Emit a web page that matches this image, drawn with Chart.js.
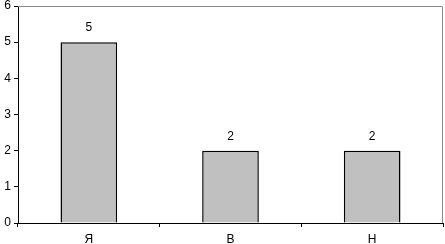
<!DOCTYPE html>
<html>
<head>
<meta charset="utf-8">
<script src="https://cdn.jsdelivr.net/npm/chart.js@4/dist/chart.umd.min.js"></script>
<style>
  html, body { margin: 0; padding: 0; background: #fff; }
  #wrap { width: 445px; height: 244px; }
</style>
</head>
<body>
<div id="wrap"><canvas id="chart"></canvas></div>
<script>
const categories = ['Я', 'В', 'Н'];
const values = [5, 2, 2];
const yTicks = [0, 1, 2, 3, 4, 5, 6];

// value labels above the bars
const valueLabels = {
    id: 'valueLabels',
    afterDatasetsDraw(chart) {
        const ctx = chart.ctx;
        const meta = chart.getDatasetMeta(0);
        ctx.save();
        ctx.font = '12px "Liberation Sans", Arial, sans-serif';
        ctx.fillStyle = '#000';
        ctx.textAlign = 'center';
        ctx.textBaseline = 'middle';
        meta.data.forEach((bar, i) => {
            ctx.fillText(String(values[i]), bar.x, bar.y - 14);
        });
        ctx.restore();
    }
};

// grey frame on top and right of the plot area
const frame = {
    id: 'frame',
    beforeDatasetsDraw(chart) {
        const a = chart.chartArea;
        const ctx = chart.ctx;
        ctx.save();
        ctx.strokeStyle = '#888';
        ctx.lineWidth = 1;
        ctx.beginPath();
        ctx.moveTo(a.left, a.top + 0.5);
        ctx.lineTo(a.right - 0.5, a.top + 0.5);
        ctx.lineTo(a.right - 0.5, a.bottom);
        ctx.stroke();
        ctx.restore();
    }
};

new Chart(document.getElementById('chart'), {
    type: 'bar',
    data: {
        labels: categories,
        datasets: [{
            data: values,
            backgroundColor: '#c0c0c0',
            borderColor: '#000',
            borderWidth: 1.5,
            barPercentage: 0.4,
            categoryPercentage: 1.0
        }]
    },
    options: {
        responsive: true,
        maintainAspectRatio: false,
        animation: false,
        layout: { padding: { top: 6, right: 2, left: 0, bottom: 0 } },
        plugins: {
            legend: { display: false },
            tooltip: { enabled: false }
        },
        scales: {
            x: {
                grid: { drawOnChartArea: false, tickLength: 4, color: '#000', offset: true },
                border: { color: '#000', width: 1 },
                ticks: {
                    color: '#000',
                    font: { family: '"Liberation Sans", Arial, sans-serif', size: 12 },
                    padding: 5
                },
                afterFit(scale) {
                    scale.height = 21;
                    scale.paddingLeft = 0;
                    scale.paddingRight = 0;
                }
            },
            y: {
                min: 0,
                max: 6,
                afterBuildTicks(scale) {
                    scale.ticks = yTicks.map(v => ({ value: v }));
                },
                grid: { drawOnChartArea: false, tickLength: 4, color: '#000' },
                border: { color: '#000', width: 1 },
                ticks: {
                    color: '#000',
                    font: { family: '"Liberation Sans", Arial, sans-serif', size: 12 },
                    padding: 3
                },
                afterFit(scale) {
                    scale.width = 18;
                    scale.paddingTop = 0;
                    scale.paddingBottom = 0;
                }
            }
        }
    },
    plugins: [frame, valueLabels]
});
</script>
</body>
</html>
